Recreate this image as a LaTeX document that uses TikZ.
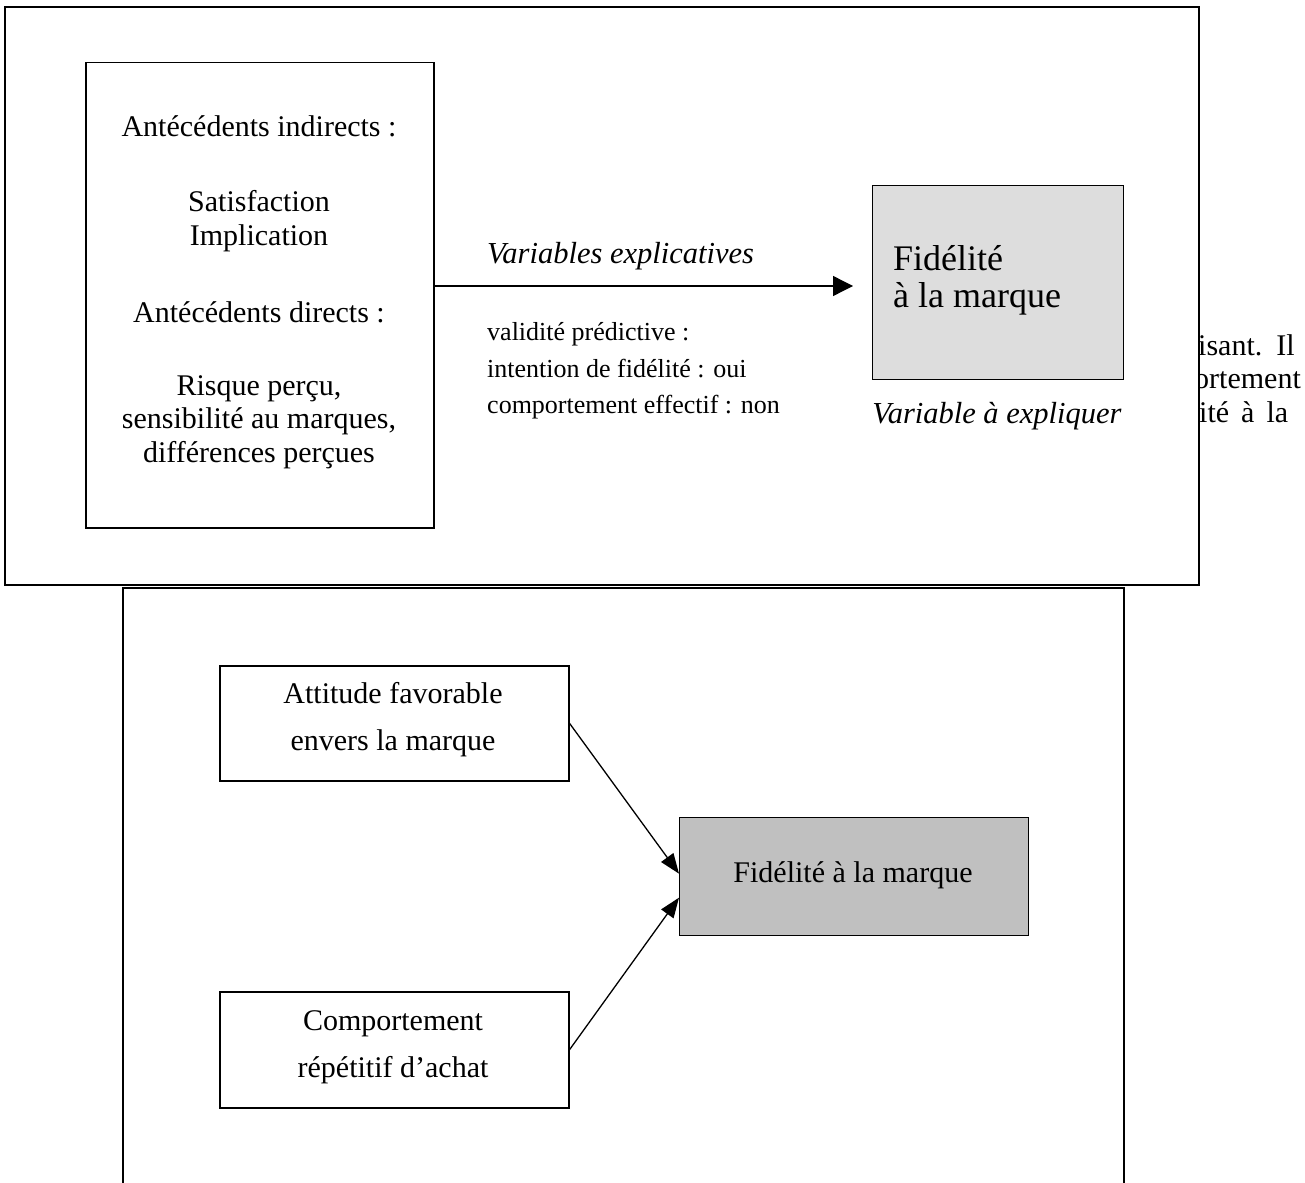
\documentclass[tikz,border=0pt]{standalone}
\usepackage{fontspec}
\setmainfont{Liberation Serif}
\usetikzlibrary{arrows.meta}
\definecolor{lightbox}{HTML}{DDDDDD}
\definecolor{midbox}{HTML}{C0C0C0}
\begin{document}
\begin{tikzpicture}[x=1pt,y=-1pt,
  framebox/.style={line width=2.2pt},
  plainbox/.style={draw,line width=1.5pt,anchor=north west,inner sep=0pt},
  txt/.style={anchor=base,inner sep=0pt,font=\fontsize{30}{36}\selectfont},
  txtw/.style={anchor=base west,inner sep=0pt,font=\fontsize{30}{36}\selectfont},
  smalltxt/.style={anchor=base west,inner sep=0pt,font=\fontsize{26}{30}\selectfont},
  itxt/.style={inner sep=0pt,font=\fontsize{30.5}{36}\selectfont\itshape},
  bigtxt/.style={anchor=base west,inner sep=0pt,font=\fontsize{36}{42}\selectfont},
  bigarrow/.style={line width=1.3pt,-{Triangle[length=20pt,width=20pt]}},
  smallarrow/.style={line width=1.3pt,-{Triangle[length=20pt,width=15pt]}}]
\useasboundingbox (0,0) rectangle (1305,1182);

% fragments of page text visible at the right
\begin{scope}
\clip (1199,300) rectangle (1305,450);
\node[txtw] (fragA) at (1198,355) {isant.\hspace{14pt}Il};
\node[txtw] (fragB) at (1194,388) {ortement};
\node[txtw] (fragC) at (1199,422) {ité\hspace{12pt}à\hspace{12pt}la};
\end{scope}

% outer frames
\draw[framebox] (5,7) rectangle (1199,585);
\draw[framebox] (123,1190) -- (123,588) -- (1124,588) -- (1124,1190);

% ---------- upper diagram ----------
\node[plainbox,minimum width=348pt,minimum height=465pt] (ante) at (85,62) {};
\node[txt] (t1) at (259,137) {Antécédents indirects :};
\node[txt] (t2) at (259,212) {Satisfaction};
\node[txt] (t3) at (259,245) {Implication};
\node[txt] (t4) at (259,322) {Antécédents directs :};
\node[txt] (t5) at (259,395) {Risque perçu,};
\node[txt] (t6) at (259,428) {sensibilité au marques,};
\node[txt] (t7) at (259,462) {différences perçues};

\node[plainbox,fill=lightbox,line width=1.3pt,minimum width=251pt,minimum height=194pt] (fid1) at (872,185) {};
\node[bigtxt] (f1a) at (893,270) {Fidélité};
\node[bigtxt] (f1b) at (893,307) {à la marque};
\node[itxt,anchor=base] (vexp) at (997,423) {Variable à expliquer};

\coordinate (tip1) at (853,286);
\draw[bigarrow] (ante.east |- tip1) -- (tip1);
\node[itxt,anchor=base west] (vexpl) at (487,263) {Variables explicatives};
\node[smalltxt] (s1) at (487,340) {validité prédictive :};
\node[smalltxt] (s2) at (487,377) {intention de fidélité : oui};
\node[smalltxt] (s3) at (487,413) {comportement effectif : non};

% ---------- lower diagram ----------
\node[plainbox,minimum width=349pt,minimum height=115pt] (att) at (219,665) {};
\node[txt] (a1) at (393,703) {Attitude favorable};
\node[txt] (a2) at (393,750) {envers la marque};

\node[plainbox,minimum width=349pt,minimum height=116pt] (comp) at (219,991) {};
\node[txt] (c1) at (393,1030) {Comportement};
\node[txt] (c2) at (393,1077) {répétitif d’achat};

\node[plainbox,fill=midbox,line width=1.3pt,minimum width=349pt,minimum height=118pt] (fid2) at (679,817) {};
\node[txt] (f2) at (853,882) {Fidélité à la marque};

\draw[smallarrow] (att.east) -- ([yshift=3pt]fid2.west);
\draw[smallarrow] (comp.east) -- ([yshift=-21pt]fid2.west);
\end{tikzpicture}
\end{document}
